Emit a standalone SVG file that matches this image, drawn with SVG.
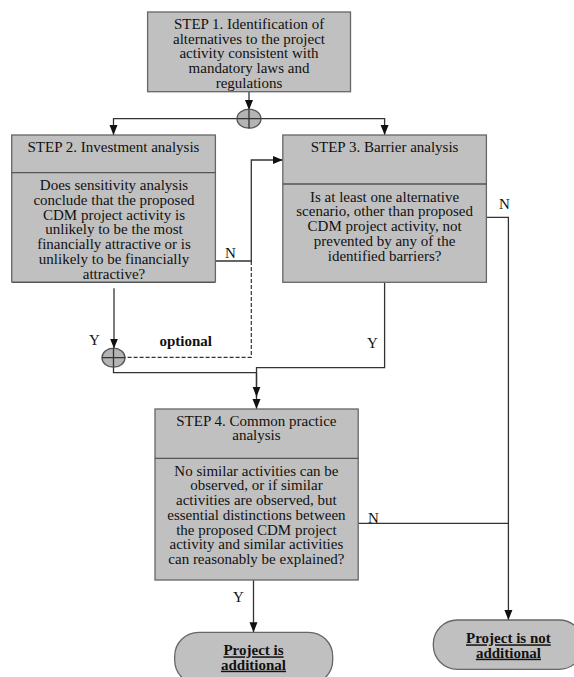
<svg xmlns="http://www.w3.org/2000/svg" width="574" height="677" viewBox="0 0 574 677">
<style>
.box{fill:#c0c0c0;stroke:#666;stroke-width:1.3}
.div{stroke:#555;stroke-width:1.3}
.t{font-family:"Liberation Serif","Times New Roman",serif;font-size:15px;fill:#111;text-anchor:middle}
.b{font-weight:bold;text-decoration:underline}
.lbl{font-family:"Liberation Serif","Times New Roman",serif;font-size:15px;fill:#111}
.c{fill:none;stroke:#333;stroke-width:1.3}
.d{fill:none;stroke:#333;stroke-width:1.2;stroke-dasharray:4 2}
.j{fill:#b4b4b4;stroke:#555;stroke-width:1.3}
</style>
<defs>
<marker id="ah" markerUnits="userSpaceOnUse" markerWidth="10" markerHeight="10" viewBox="0 0 10 10" refX="10" refY="5" orient="auto">
<path d="M0,1 L10,5 L0,9 Z" fill="#111"/>
</marker>
</defs>
<g id="connectors">
<path class="c" d="M249,92 V110" marker-end="url(#ah)"/>
<path class="c" d="M249,118.7 H113.5 V135" marker-end="url(#ah)"/>
<path class="c" d="M249,118.7 H384.6 V135" marker-end="url(#ah)"/>
<path class="c" d="M215.4,261 H251.3 V160 H282.8" marker-end="url(#ah)"/>
<path class="d" d="M251.3,261 V357.3 H124.5"/>
<path class="c" d="M114,282.3 V348.5" marker-end="url(#ah)"/>
<path class="c" d="M113.5,367 V372.7 H256.5 V409" marker-end="url(#ah)"/>
<path class="c" d="M384.6,282.3 V367.7 H256.5 V396.7" marker-end="url(#ah)"/>
<path class="c" d="M486.4,217.3 H508.4 V620" marker-end="url(#ah)"/>
<path class="c" d="M358.2,523.3 H508.4"/>
<path class="c" d="M253.5,580 V632.3" marker-end="url(#ah)"/>
<text class="lbl" x="225" y="258">N</text>
<text class="lbl" x="499" y="209">N</text>
<text class="lbl" x="368" y="523">N</text>
<text class="lbl" x="89" y="345">Y</text>
<text class="lbl" x="367" y="348">Y</text>
<text class="lbl" x="233" y="602">Y</text>
<text class="t" x="185.7" y="346" font-weight="bold">optional</text>
</g>
<g id="junction1">
<ellipse class="j" cx="249" cy="118.7" rx="12" ry="9.5"/>
<path class="c" d="M237,118.7 H261 M249,109.2 V128.2"/>
</g>
<g id="junction2">
<ellipse class="j" cx="113.5" cy="357.7" rx="11.5" ry="9.5"/>
<path class="c" d="M102,357.7 H125 M113.5,348.2 V367.2"/>
</g>
<g id="step1">
<rect class="box" x="147.6" y="12" width="202.9" height="79.7"/>
<text class="t" x="249" y="29">STEP 1. Identification of</text>
<text class="t" x="249" y="43.7">alternatives to the project</text>
<text class="t" x="249" y="58.4">activity consistent with</text>
<text class="t" x="249" y="73.1">mandatory laws and</text>
<text class="t" x="249" y="87.8">regulations</text>
</g>
<g id="step2">
<rect class="box" x="11.7" y="135" width="203.7" height="147.3"/>
<line class="div" x1="11.7" y1="172.7" x2="215.4" y2="172.7"/>
<text class="t" x="113.5" y="152">STEP 2. Investment analysis</text>
<text class="t" x="114" y="190">Does sensitivity analysis</text>
<text class="t" x="114" y="204.8">conclude that the proposed</text>
<text class="t" x="114" y="219.6">CDM project activity is</text>
<text class="t" x="114" y="234.4">unlikely to be the most</text>
<text class="t" x="114" y="249.2">financially attractive or is</text>
<text class="t" x="114" y="264">unlikely to be financially</text>
<text class="t" x="114" y="278.8">attractive?</text>
<rect x="11" y="282.3" width="205" height="6" fill="#fff"/>
<line class="div" x1="11.7" y1="282.3" x2="215.4" y2="282.3"/>
</g>
<g id="step3">
<rect class="box" x="282.8" y="135" width="203.6" height="147.3"/>
<line class="div" x1="282.8" y1="184" x2="486.4" y2="184"/>
<text class="t" x="384.6" y="152">STEP 3. Barrier analysis</text>
<text class="t" x="384.6" y="201.7">Is at least one alternative</text>
<text class="t" x="384.6" y="216.4">scenario, other than  proposed</text>
<text class="t" x="384.6" y="231.1">CDM project activity, not</text>
<text class="t" x="384.6" y="245.8">prevented by any of the</text>
<text class="t" x="384.6" y="260.5">identified barriers?</text>
</g>
<g id="step4">
<rect class="box" x="155" y="409" width="203.2" height="171"/>
<line class="div" x1="155" y1="458.3" x2="358.2" y2="458.3"/>
<text class="t" x="256.4" y="425.7">STEP 4. Common practice</text>
<text class="t" x="256.4" y="440.4">analysis</text>
<text class="t" x="256.4" y="475.7">No similar activities can be</text>
<text class="t" x="256.4" y="490.4">observed, or if similar</text>
<text class="t" x="256.4" y="505.1">activities are observed, but</text>
<text class="t" x="256.4" y="519.8">essential distinctions between</text>
<text class="t" x="256.4" y="534.5">the proposed CDM project</text>
<text class="t" x="256.4" y="549.2">activity and similar activities</text>
<text class="t" x="256.4" y="563.9">can reasonably be explained?</text>
</g>
<g id="additional">
<rect class="box" x="174.7" y="632.3" width="158" height="52" rx="24" ry="24"/>
<text class="t b" x="253.5" y="655.3">Project is</text>
<text class="t b" x="253.5" y="669.7">additional</text>
</g>
<g id="not-additional">
<rect class="box" x="433.3" y="620" width="150" height="49.3" rx="24" ry="24"/>
<text class="t b" x="508.4" y="643.3">Project is not</text>
<text class="t b" x="508.4" y="657.7">additional</text>
</g>
</svg>
